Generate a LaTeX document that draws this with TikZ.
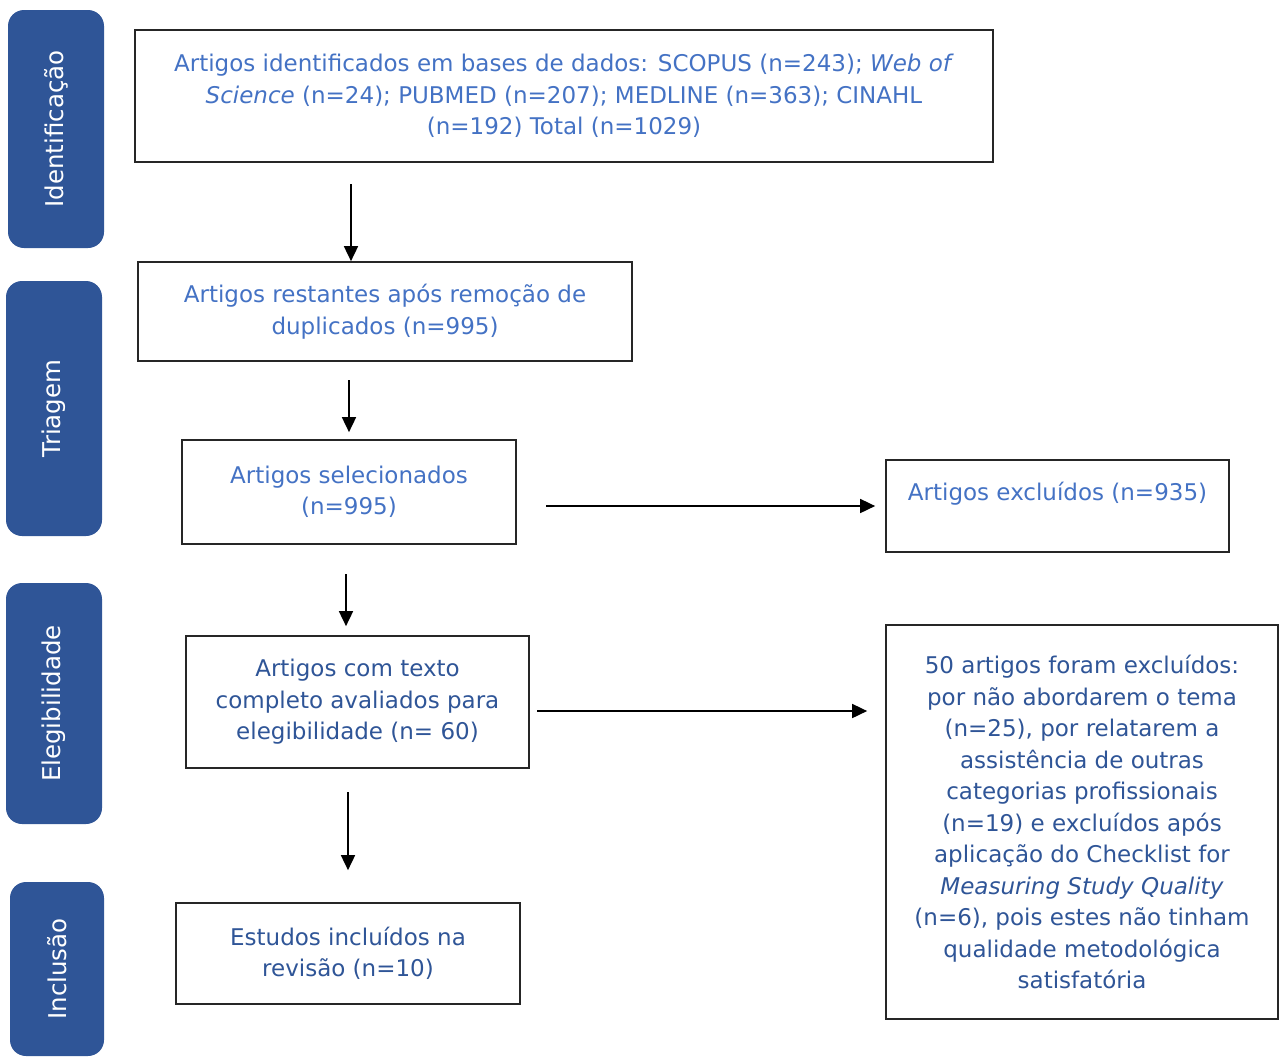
\documentclass[tikz,border=0pt]{standalone}
\usepackage{fontspec}
\setmainfont{DejaVu Sans}
\usepackage{tikz}
\usetikzlibrary{
    calc,
    positioning,
    arrows.meta
}
\definecolor{tabblue}{HTML}{2F5597}
\definecolor{lightblue}{HTML}{4472C4}
\definecolor{darkblue}{HTML}{2F5597}
\tikzset{
    every node/.append style = {
        font = \fontsize{23}{31.5}\selectfont
    },
    phase/.style = {
        rectangle,
        rounded corners = 16pt,
        fill = tabblue,
        text = white,
        rotate = 90,
        inner sep = 0pt,
        font = \fontsize{24.5}{30}\selectfont
    },
    box/.style = {
        rectangle,
        draw = black!85,
        line width = 1.7pt,
        align = center,
        inner sep = 0pt,
        text = lightblue
    },
    darkbox/.style = {
        box,
        text = darkblue
    },
    arr/.style = {
        -{Triangle[length=15pt, width=14pt]},
        line width = 1.7pt
    }
}
\begin{document}
\begin{tikzpicture}[x=1pt, y=-1pt]
        \useasboundingbox (0,0) rectangle (1281,1058);

        \node[phase, minimum width=238, minimum height=96] (identificacao) at (56,129) {Identificação};
        \node[phase, minimum width=255, minimum height=96] (triagem) at (54,408.5) {Triagem};
        \node[phase, minimum width=241, minimum height=96] (elegibilidade) at (54,703.5) {Elegibilidade};
        \node[phase, minimum width=174, minimum height=94] (inclusao) at (57,969) {Inclusão};

        \node[box, minimum width=858, minimum height=132] (identificados) at (564,96)
            {Artigos identificados em bases de dados: SCOPUS (n=243); \textit{Web of}\\
             \textit{Science} (n=24); PUBMED (n=207); MEDLINE (n=363); CINAHL\\
             (n=192) Total (n=1029)};
        \node[box, minimum width=494, minimum height=99] (restantes) at (385,311.5)
            {Artigos restantes após remoção de\\ duplicados (n=995)};
        \node[box, minimum width=334, minimum height=104] (selecionados) at (349,492)
            {Artigos selecionados\\ (n=995)};
        \node[box, minimum width=343, minimum height=92, text height=16pt, text depth=28pt] (excluidos) at (1057.5,506)
            {Artigos excluídos (n=935)};
        \node[darkbox, minimum width=343, minimum height=132] (avaliados) at (357.5,702)
            {Artigos com texto\\ completo avaliados para\\ elegibilidade (n= 60)};
        \node[darkbox, minimum width=392, minimum height=394] (motivos) at (1082,822)
            {50 artigos foram excluídos:\\ por não abordarem o tema\\ (n=25), por relatarem a\\
             assistência de outras\\ categorias profissionais\\ (n=19) e excluídos após\\
             aplicação do Checklist for\\ \textit{Measuring Study Quality}\\
             (n=6), pois estes não tinham\\ qualidade metodológica\\ satisfatória};
        \node[darkbox, minimum width=344, minimum height=101] (incluidos) at (348,953.5)
            {Estudos incluídos na\\ revisão (n=10)};

        \coordinate (from1) at (351,184);
        \coordinate (from2) at (349,380);
        \coordinate (from3) at (546,506);
        \coordinate (from4) at (346,574);
        \coordinate (from5) at (537,711);
        \coordinate (from6) at (348,792);

        \draw[arr] (from1) -- (from1 |- restantes.north);
        \draw[arr, shorten >=7pt] (from2) -- (from2 |- selecionados.north);
        \draw[arr, shorten >=10pt] (from3) -- (from3 -| excluidos.west);
        \draw[arr, shorten >=9pt] (from4) -- (from4 |- avaliados.north);
        \draw[arr, shorten >=18pt] (from5) -- (from5 -| motivos.west);
        \draw[arr, shorten >=32pt] (from6) -- (from6 |- incluidos.north);
\end{tikzpicture}
\end{document}
